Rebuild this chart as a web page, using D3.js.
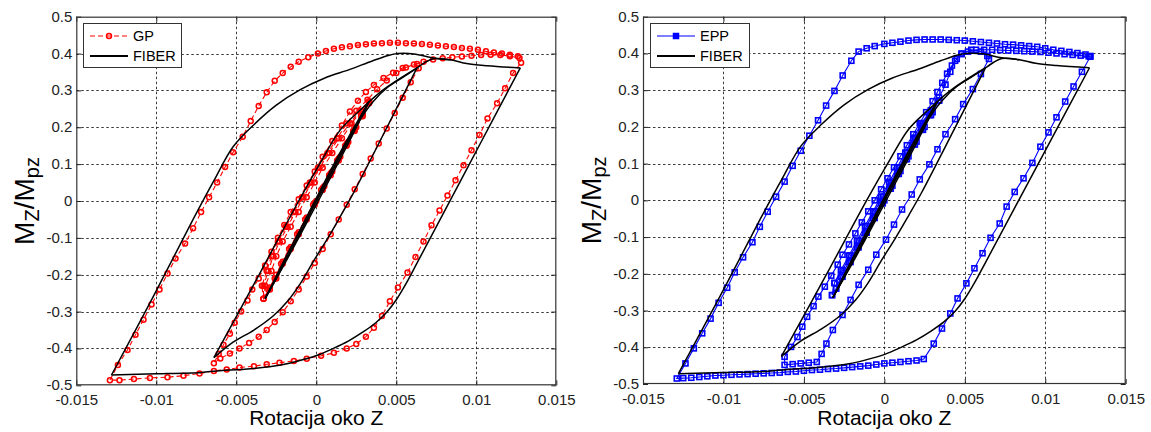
<!DOCTYPE html>
<html><head><meta charset="utf-8">
<script src="https://cdn.jsdelivr.net/npm/d3@7/dist/d3.min.js"></script>
<style>
html,body{margin:0;padding:0;background:#fff;}
svg{display:block;font-family:"Liberation Sans",Arial,Helvetica,sans-serif;}
</style></head>
<body><svg id="chart" width="1151" height="432"></svg>
<script>
// ---------------- tick values / labels ----------------
const xTickVals = [-0.015,-0.01,-0.005,0,0.005,0.01,0.015];
const xTickLabels = ["-0.015","-0.01","-0.005","0","0.005","0.01","0.015"];
const yTickVals = [-0.5,-0.4,-0.3,-0.2,-0.1,0,0.1,0.2,0.3,0.4,0.5];
const yTickLabels = ["-0.5","-0.4","-0.3","-0.2","-0.1","0","0.1","0.2","0.3","0.4","0.5"];
const xLabel = "Rotacija oko Z";
const legendLeft = ["GP","FIBER"];
const legendRight = ["EPP","FIBER"];

// ---------------- FIBER (black, both panels) ----------------
const fiberUp0   = [[0,0],[0.001,0.083],[0.002,0.166],[0.0033,0.27]];
const fiberDown1 = [[0.0033,0.27],[0.002,0.164],[0.001,0.082],[0,0.0],[-0.001,-0.086],[-0.002,-0.168],[-0.0032,-0.265]];
const fiberUp1   = [[-0.0032,-0.265],[-0.002,-0.172],[-0.001,-0.092],[0,-0.01],[0.001,0.073],[0.002,0.156],[0.0033,0.27]];
const fiberDown2 = [[0.0033,0.27],[0.002,0.172],[0.001,0.092],[0,0.008],[-0.001,-0.077],[-0.002,-0.16],[-0.0032,-0.265]];
const fiberUp2   = [[-0.0032,-0.265],[-0.002,-0.168],[-0.001,-0.085],[0,0],[0.001,0.083],[0.002,0.165],[0.0028,0.225],[0.0036,0.272],[0.0045,0.31],[0.0055,0.338],[0.0063,0.361]];
const fiberMedDown = [[0.0063,0.362],[0.0043,0.19],[0.0023,0.02],[0.0015,-0.042],[0.0007,-0.102],[-0.0002,-0.165],[-0.001,-0.224],[-0.0018,-0.272],[-0.0027,-0.312],[-0.0039,-0.35],[-0.0052,-0.383],[-0.0064,-0.425]];
const fiberMedUp = [[-0.0064,-0.425],[-0.0037,-0.21],[-0.0011,0.0],[0.00035,0.111],[0.0015,0.193],[0.00275,0.247],[0.0042,0.302],[0.0063,0.361]];
const fiberTop   = [[0.0063,0.361],[0.0068,0.376],[0.0073,0.386],[0.0084,0.383],[0.0094,0.373],[0.0107,0.367],[0.01275,0.361]];
const fiberBigDown = [[0.01275,0.361],[0.0103,0.16],[0.0078,-0.045],[0.0063,-0.168],[0.0056,-0.225],[0.005,-0.268],[0.0044,-0.302],[0.0037,-0.331],[0.0029,-0.356],[0.002,-0.38],[0.001,-0.401],[0.0001,-0.418],[-0.0012,-0.435],[-0.0022,-0.445],[-0.0041,-0.455],[-0.0062,-0.461],[-0.0072,-0.465],[-0.01,-0.469],[-0.0128,-0.472]];
const fiberBigUp = [[-0.0128,-0.472],[-0.0102,-0.26],[-0.0077,-0.05],[-0.0064,0.055],[-0.0052,0.147],[-0.0039,0.207],[-0.0025,0.26],[-0.001,0.302],[0.0005,0.333],[0.0021,0.357],[0.0035,0.38],[0.0045,0.395],[0.0051,0.40],[0.0061,0.399],[0.0073,0.388],[0.0084,0.383]];
const fiberBranches = [fiberUp0,fiberDown1,fiberUp1,fiberDown2,fiberUp2,fiberMedDown,fiberMedUp,fiberTop,fiberBigDown,fiberBigUp];

// ---------------- GP (red, left panel) ----------------
const gpUp0 = [[0,0],[0.0005,0.04],[0.001,0.08],[0.0015,0.12],[0.002,0.16],[0.0025,0.2],[0.0029,0.235],[0.0033,0.265]];
const gpDown1 = [[0.0028,0.23],[0.0023,0.19],[0.0018,0.15],[0.0013,0.11],[0.0008,0.07],[0.0003,0.03],[-0.0002,-0.01],[-0.0007,-0.05],[-0.0012,-0.09],[-0.0017,-0.13],[-0.0022,-0.17],[-0.0026,-0.21],[-0.003,-0.24],[-0.0033,-0.265]];
const gpUp1 = [[-0.0033,-0.23],[-0.003,-0.19],[-0.0027,-0.15],[-0.0023,-0.11],[-0.0018,-0.07],[-0.0013,-0.03],[-0.0008,0.01],[-0.0003,0.05],[0.0002,0.09],[0.0008,0.13],[0.0014,0.17],[0.0021,0.21],[0.0027,0.245],[0.0033,0.27]];
const gpDown2 = [[0.0029,0.235],[0.0024,0.195],[0.0019,0.155],[0.0014,0.115],[0.0009,0.075],[0.0004,0.035],[-0.0001,-0.005],[-0.0006,-0.045],[-0.0011,-0.085],[-0.0016,-0.125],[-0.0021,-0.165],[-0.0025,-0.2],[-0.0029,-0.235],[-0.0033,-0.265]];
const gpUp2 = [[-0.0032,-0.23],[-0.0028,-0.19],[-0.0025,-0.15],[-0.0021,-0.11],[-0.0016,-0.07],[-0.0011,-0.03],[-0.0006,0.01],[-0.0001,0.05],[0.0004,0.09],[0.001,0.13],[0.0016,0.17],[0.0022,0.21],[0.0028,0.245],[0.0033,0.27]];
const gpDown3 = [[0.0029,0.23],[0.0024,0.19],[0.0019,0.15],[0.0014,0.11],[0.0009,0.07],[0.0004,0.03],[-0.0001,-0.01],[-0.0006,-0.05],[-0.0011,-0.09],[-0.0016,-0.13],[-0.0021,-0.17],[-0.0025,-0.21],[-0.0029,-0.24],[-0.0033,-0.265]];
const gpMedLoad = [[-0.0034,-0.23],[-0.0031,-0.19],[-0.0028,-0.15],[-0.0024,-0.11],[-0.0019,-0.07],[-0.0014,-0.03],[-0.0009,0.01],[-0.0004,0.05],[0.0001,0.09],[0.0007,0.13],[0.0013,0.17],[0.0019,0.21],[0.0025,0.245],[0.0032,0.275],[0.0038,0.303],[0.0044,0.327],[0.005,0.347],[0.0056,0.362],[0.0063,0.372]];
const gpMedDown = [[0.0064,0.36],[0.0059,0.322],[0.0054,0.28],[0.0049,0.239],[0.0044,0.197],[0.0039,0.156],[0.0034,0.115],[0.0029,0.073],[0.0024,0.032],[0.0019,-0.01],[0.0014,-0.05],[0.0009,-0.09],[0.0004,-0.13],[-0.0001,-0.168],[-0.0006,-0.205],[-0.0011,-0.24],[-0.0016,-0.272],[-0.0021,-0.302],[-0.0026,-0.328],[-0.0031,-0.35],[-0.0036,-0.368],[-0.0042,-0.385],[-0.0048,-0.40],[-0.0054,-0.414],[-0.006,-0.427],[-0.0064,-0.44]];
const gpMedUp = [[-0.0061,-0.415],[-0.0058,-0.39],[-0.0054,-0.36],[-0.0051,-0.33],[-0.0047,-0.30],[-0.0043,-0.27],[-0.004,-0.24],[-0.0036,-0.21],[-0.0032,-0.175],[-0.0028,-0.138],[-0.0024,-0.1],[-0.002,-0.065],[-0.0016,-0.03],[-0.0011,0.005],[-0.0006,0.042],[-0.0001,0.08],[0.0004,0.12],[0.001,0.163],[0.0016,0.205],[0.0021,0.243],[0.0026,0.272],[0.0031,0.296],[0.0036,0.315],[0.0042,0.334],[0.0048,0.348],[0.0054,0.361],[0.0061,0.37],[0.0067,0.378],[0.0073,0.384],[0.0079,0.387],[0.0085,0.39],[0.0091,0.392],[0.0097,0.394],[0.0103,0.396],[0.0109,0.397],[0.0115,0.396],[0.0121,0.393],[0.0127,0.388]];
const gpBigDown = [[0.0128,0.375],[0.0123,0.347],[0.0118,0.306],[0.0113,0.265],[0.0107,0.224],[0.0102,0.179],[0.0097,0.138],[0.0092,0.097],[0.0087,0.056],[0.0082,0.015],[0.0077,-0.026],[0.0072,-0.066],[0.0067,-0.11],[0.0062,-0.152],[0.0057,-0.194],[0.0051,-0.235],[0.0046,-0.272],[0.0041,-0.312],[0.0036,-0.344],[0.0031,-0.368],[0.0025,-0.388],[0.0019,-0.4],[0.0011,-0.412],[0.0003,-0.42],[-0.0006,-0.428],[-0.0014,-0.434],[-0.0023,-0.439],[-0.0031,-0.443],[-0.0039,-0.448],[-0.0048,-0.452],[-0.0056,-0.457],[-0.0064,-0.461],[-0.0073,-0.468],[-0.0083,-0.474],[-0.0093,-0.478],[-0.0104,-0.48],[-0.0114,-0.483],[-0.0123,-0.486],[-0.0129,-0.486]];
const gpBigUp = [[-0.0124,-0.445],[-0.0118,-0.404],[-0.0113,-0.363],[-0.0108,-0.322],[-0.0103,-0.281],[-0.0098,-0.24],[-0.0093,-0.197],[-0.0088,-0.156],[-0.0082,-0.115],[-0.0077,-0.074],[-0.0072,-0.03],[-0.0067,0.01],[-0.0062,0.05],[-0.0057,0.092],[-0.0052,0.132],[-0.0046,0.174],[-0.0041,0.217],[-0.0036,0.258],[-0.0031,0.295],[-0.0026,0.326],[-0.0021,0.347],[-0.0016,0.364],[-0.0011,0.378],[-0.0005,0.39],[0.0001,0.4],[0.0006,0.407],[0.0011,0.413],[0.0016,0.417],[0.0021,0.42],[0.0026,0.423],[0.0031,0.425],[0.0036,0.427],[0.0041,0.428],[0.0046,0.429],[0.0051,0.429],[0.0056,0.428],[0.0061,0.427],[0.0066,0.426],[0.0071,0.424],[0.0076,0.422],[0.0081,0.42],[0.0086,0.418],[0.0091,0.415],[0.0096,0.413],[0.0101,0.41],[0.0106,0.406],[0.0111,0.403],[0.0116,0.4],[0.0121,0.397],[0.0126,0.393]];
const gpSeries = [gpUp0,gpDown1,gpUp1,gpDown2,gpUp2,gpDown3,gpMedLoad,gpMedDown,gpMedUp,gpBigDown,gpBigUp];

// ---------------- EPP (blue, right panel) ----------------
const eppUp0 = [[0,0],[0.0005,0.04],[0.001,0.08],[0.0015,0.12],[0.002,0.16],[0.0025,0.2],[0.003,0.24],[0.0034,0.272]];
const eppDown1 = [[0.0029,0.232],[0.0024,0.192],[0.0019,0.152],[0.0014,0.112],[0.0009,0.072],[0.0004,0.032],[-0.0001,-0.008],[-0.0006,-0.048],[-0.0011,-0.088],[-0.0016,-0.128],[-0.0021,-0.168],[-0.0026,-0.208],[-0.003,-0.24],[-0.00325,-0.258]];
const eppUp1 = [[-0.0031,-0.225],[-0.0027,-0.19],[-0.0022,-0.15],[-0.0017,-0.11],[-0.0012,-0.07],[-0.0007,-0.03],[-0.0002,0.01],[0.0003,0.05],[0.0008,0.09],[0.0013,0.13],[0.0018,0.17],[0.0023,0.21],[0.0029,0.245],[0.0034,0.272]];
const eppDown2 = [[0.0028,0.232],[0.0023,0.192],[0.0018,0.152],[0.0013,0.112],[0.0008,0.072],[0.0003,0.032],[-0.0002,-0.008],[-0.0007,-0.048],[-0.0012,-0.088],[-0.0017,-0.128],[-0.0022,-0.168],[-0.0027,-0.208],[-0.003,-0.24],[-0.00325,-0.258]];
const eppLoad = [[-0.0031,-0.225],[-0.0026,-0.19],[-0.0021,-0.15],[-0.0016,-0.11],[-0.0011,-0.07],[-0.0006,-0.03],[-0.0001,0.01],[0.0004,0.05],[0.0009,0.09],[0.0014,0.13],[0.0019,0.17],[0.0024,0.21],[0.0029,0.245],[0.0034,0.28],[0.0038,0.315],[0.0041,0.35],[0.0044,0.38],[0.0048,0.4],[0.0054,0.41],[0.006,0.405],[0.0064,0.393]];
const eppMedDown = [[0.0065,0.385],[0.006,0.344],[0.0055,0.303],[0.0049,0.262],[0.0044,0.221],[0.0038,0.18],[0.0033,0.139],[0.0028,0.098],[0.0022,0.057],[0.0017,0.016],[0.0011,-0.025],[0.0006,-0.066],[0.0001,-0.107],[-0.0005,-0.148],[-0.001,-0.189],[-0.0016,-0.23],[-0.0021,-0.271],[-0.0026,-0.312],[-0.0032,-0.353],[-0.0036,-0.39],[-0.0039,-0.418],[-0.0042,-0.44],[-0.0047,-0.442],[-0.0052,-0.444],[-0.0057,-0.446],[-0.0062,-0.448]];
const eppMedUp = [[-0.0062,-0.426],[-0.0058,-0.399],[-0.0054,-0.372],[-0.0051,-0.344],[-0.0048,-0.317],[-0.0044,-0.288],[-0.0041,-0.262],[-0.0037,-0.235],[-0.0033,-0.205],[-0.0029,-0.175],[-0.0026,-0.148],[-0.0022,-0.12],[-0.0018,-0.09],[-0.0014,-0.06],[-0.001,-0.03],[-0.0006,0.0],[-0.0002,0.03],[0.0002,0.06],[0.0006,0.09],[0.001,0.12],[0.0014,0.15],[0.0018,0.18],[0.0022,0.21],[0.0026,0.24],[0.003,0.27],[0.0033,0.295],[0.0036,0.32],[0.0039,0.345],[0.0042,0.367],[0.0045,0.385],[0.0048,0.398],[0.0052,0.405],[0.0057,0.41]];
const eppPlateau = [[0.0062,0.41],[0.0067,0.41],[0.0072,0.409],[0.0077,0.408],[0.0082,0.407],[0.0087,0.406],[0.0092,0.405],[0.0097,0.404],[0.0102,0.402],[0.0107,0.4],[0.0112,0.398],[0.0117,0.396],[0.0122,0.394],[0.0127,0.392]];
const eppBigDown = [[0.0128,0.391],[0.01228,0.35],[0.01176,0.31],[0.01124,0.269],[0.0107,0.226],[0.0102,0.185],[0.0097,0.146],[0.0092,0.102],[0.00865,0.06],[0.0081,0.023],[0.0076,-0.017],[0.00717,-0.063],[0.0066,-0.102],[0.0061,-0.144],[0.0056,-0.185],[0.0051,-0.226],[0.00455,-0.267],[0.0041,-0.308],[0.00358,-0.349],[0.00307,-0.39],[0.00245,-0.432]];
const eppBottom = [[0.002,-0.436],[0.0015,-0.438],[0.001,-0.44],[0.0005,-0.442],[0,-0.444],[-0.0005,-0.447],[-0.001,-0.45],[-0.0015,-0.452],[-0.002,-0.454],[-0.0025,-0.456],[-0.003,-0.458],[-0.0035,-0.459],[-0.004,-0.461],[-0.0045,-0.462],[-0.005,-0.464],[-0.0055,-0.466],[-0.006,-0.467],[-0.0065,-0.469],[-0.007,-0.47],[-0.0075,-0.471],[-0.008,-0.472],[-0.0085,-0.473],[-0.009,-0.474],[-0.0095,-0.475],[-0.01,-0.476],[-0.0105,-0.477],[-0.011,-0.479],[-0.0115,-0.481],[-0.012,-0.483],[-0.0125,-0.484],[-0.0129,-0.485]];
const eppBigUp = [[-0.01236,-0.444],[-0.01184,-0.403],[-0.01132,-0.362],[-0.0108,-0.322],[-0.0103,-0.279],[-0.00977,-0.238],[-0.0093,-0.196],[-0.00878,-0.155],[-0.0082,-0.114],[-0.00774,-0.072],[-0.00725,-0.031],[-0.00673,0.01],[-0.0062,0.051],[-0.0057,0.094],[-0.0052,0.135],[-0.00466,0.176],[-0.00412,0.218],[-0.00362,0.258],[-0.0031,0.298],[-0.00259,0.34],[-0.00205,0.38],[-0.0016,0.405]];
const eppTop = [[-0.0011,0.414],[-0.0006,0.42],[0,0.426],[0.0005,0.429],[0.001,0.432],[0.0015,0.435],[0.002,0.437],[0.0025,0.438],[0.003,0.438],[0.0035,0.438],[0.004,0.437],[0.0045,0.436],[0.005,0.435],[0.0055,0.433],[0.006,0.431],[0.0065,0.429],[0.007,0.427],[0.0075,0.425],[0.008,0.424],[0.0085,0.422],[0.009,0.42],[0.0095,0.418],[0.01,0.414],[0.0105,0.41],[0.011,0.407],[0.0115,0.404],[0.012,0.401],[0.0125,0.397],[0.0128,0.393]];
const eppSeries = [eppUp0,eppDown1,eppUp1,eppDown2,eppLoad,eppMedDown,eppMedUp,eppPlateau,eppBigDown,eppBottom,eppBigUp,eppTop];

// ---------------- drawing ----------------
const svg = d3.select("#chart");
svg.append("rect").attr("width",1151).attr("height",432).attr("fill","#fff");
const FONT = '"Liberation Sans",Arial,Helvetica,sans-serif';

function panel(cfg){
  const x = d3.scaleLinear().domain([-0.015,0.015]).range([cfg.x0,cfg.x1]);
  const y = d3.scaleLinear().domain([-0.5,0.5]).range([cfg.y1,cfg.y0]);
  const g = svg.append("g");
  const clipId = "clip"+cfg.id;
  svg.append("clipPath").attr("id",clipId).append("rect")
    .attr("x",cfg.x0).attr("y",cfg.y0).attr("width",cfg.x1-cfg.x0).attr("height",cfg.y1-cfg.y0);

  // grid
  const grid = g.append("g").attr("stroke","#000").attr("stroke-width",0.9).attr("stroke-dasharray","2.5,2.5").attr("opacity",0.85);
  grid.selectAll("line.v").data(xTickVals.slice(1,-1)).join("line")
    .attr("x1",d=>Math.round(x(d))+0.5).attr("x2",d=>Math.round(x(d))+0.5).attr("y1",cfg.y0).attr("y2",cfg.y1);
  grid.selectAll("line.h").data(yTickVals.slice(1,-1)).join("line")
    .attr("y1",d=>Math.round(y(d))+0.5).attr("y2",d=>Math.round(y(d))+0.5).attr("x1",cfg.x0).attr("x2",cfg.x1);

  const pts = cfg.series.flat();
  const plot = g.append("g").attr("clip-path","url(#"+clipId+")");
  const lineLin = d3.line().x(d=>x(d[0])).y(d=>y(d[1]));
  plot.append("path").datum(pts).attr("d",lineLin).attr("fill","none")
    .attr("stroke",cfg.color).attr("stroke-width",1.1)
    .attr("stroke-dasharray",cfg.dash||null);
  if(cfg.marker==="circle"){
    plot.append("g").selectAll("circle").data(pts).join("circle")
      .attr("cx",d=>x(d[0])).attr("cy",d=>y(d[1])).attr("r",2.5)
      .attr("fill","none").attr("stroke",cfg.color).attr("stroke-width",1.5);
  } else {
    plot.append("g").selectAll("rect").data(pts).join("rect")
      .attr("x",d=>x(d[0])-2.5).attr("y",d=>y(d[1])-2.5).attr("width",5).attr("height",5)
      .attr("fill","none").attr("stroke",cfg.color).attr("stroke-width",1.6);
  }
  // FIBER
  const lineSm = d3.line().x(d=>x(d[0])).y(d=>y(d[1])).curve(d3.curveCatmullRom.alpha(0.5));
  plot.append("g").selectAll("path").data(fiberBranches).join("path")
    .attr("d",lineSm).attr("fill","none").attr("stroke","#000").attr("stroke-width",1.5)
    .attr("stroke-linejoin","round");

  // axes
  const axB = d3.axisBottom(x).tickValues(xTickVals).tickFormat((d,i)=>xTickLabels[i]).tickSizeInner(-5).tickSizeOuter(0).tickPadding(9);
  const axT = d3.axisTop(x).tickValues(xTickVals).tickFormat("").tickSizeInner(-5).tickSizeOuter(0);
  const axL = d3.axisLeft(y).tickValues(yTickVals).tickFormat((d,i)=>yTickLabels[i]).tickSizeInner(-5).tickSizeOuter(0).tickPadding(4);
  const axR = d3.axisRight(y).tickValues(yTickVals).tickFormat("").tickSizeInner(-5).tickSizeOuter(0);
  const style = s=>{ s.select(".domain").remove(); s.selectAll("line").attr("stroke","#222");
    s.selectAll("text").attr("fill","#222").style("font-size","15px").style("font-family",FONT); };
  g.append("g").attr("transform",`translate(0,${cfg.y1})`).call(axB).call(style);
  g.append("g").attr("transform",`translate(0,${cfg.y0})`).call(axT).call(style);
  const gl = g.append("g").attr("transform",`translate(${cfg.x0},0)`).call(axL).call(style);
  gl.selectAll("text").attr("dy","0.3em");
  g.append("g").attr("transform",`translate(${cfg.x1},0)`).call(axR).call(style);
  g.append("rect").attr("x",cfg.x0+0.5).attr("y",cfg.y0+0.5).attr("width",cfg.x1-cfg.x0-1).attr("height",cfg.y1-cfg.y0-1)
    .attr("fill","none").attr("stroke","#333").attr("stroke-width",1.2);

  // labels
  g.append("text").attr("x",(cfg.x0+cfg.x1)/2).attr("y",425).attr("text-anchor","middle")
    .style("font-size","21px").style("font-family",FONT).attr("fill","#000").text(xLabel);
  const yl = g.append("text").attr("transform",`translate(${cfg.x0-42},${(cfg.y0+cfg.y1)/2}) rotate(-90)`)
    .attr("text-anchor","middle").style("font-size","28px").style("font-family",FONT).attr("fill","#000");
  yl.append("tspan").text("M");
  yl.append("tspan").attr("dy",5).style("font-size","20px").text("Z");
  yl.append("tspan").attr("dy",-5).text("/M");
  yl.append("tspan").attr("dy",5).style("font-size","20px").text("pz");

  // legend
  const lg = g.append("g");
  lg.append("rect").attr("x",cfg.lx+0.5).attr("y",23.5).attr("width",cfg.lw).attr("height",44)
    .attr("fill","#fff").attr("stroke","#333").attr("stroke-width",1);
  const l1y = 36, l2y = 56;
  lg.append("line").attr("x1",cfg.lx+7).attr("x2",cfg.lx+45).attr("y1",l1y).attr("y2",l1y)
    .attr("stroke",cfg.color).attr("stroke-width",1.2).attr("stroke-dasharray",cfg.dash||null);
  if(cfg.marker==="circle"){
    lg.append("circle").attr("cx",cfg.lx+26).attr("cy",l1y).attr("r",2.5).attr("fill","none").attr("stroke",cfg.color).attr("stroke-width",1.5);
  } else {
    lg.append("rect").attr("x",cfg.lx+23.5).attr("y",l1y-2.5).attr("width",5).attr("height",5).attr("fill",cfg.color).attr("stroke",cfg.color).attr("stroke-width",1.5);
  }
  lg.append("line").attr("x1",cfg.lx+7).attr("x2",cfg.lx+45).attr("y1",l2y).attr("y2",l2y)
    .attr("stroke","#000").attr("stroke-width",2);
  lg.selectAll("text").data(cfg.legend).join("text")
    .attr("x",cfg.lx+50).attr("y",(d,i)=>i?l2y:l1y).attr("dy","0.36em")
    .style("font-size","14.5px").style("font-family",FONT).attr("fill","#000").text(d=>d);
}

panel({id:"L",x0:76.3,x1:556.3,y0:16.7,y1:385.3,series:gpSeries,color:"#ff0000",dash:"5,3",marker:"circle",lx:83,lw:98,legend:legendLeft});
panel({id:"R",x0:643,x1:1125.7,y0:16.7,y1:384,series:eppSeries,color:"#0000ff",dash:null,marker:"square",lx:650,lw:99,legend:legendRight});
</script></body></html>
